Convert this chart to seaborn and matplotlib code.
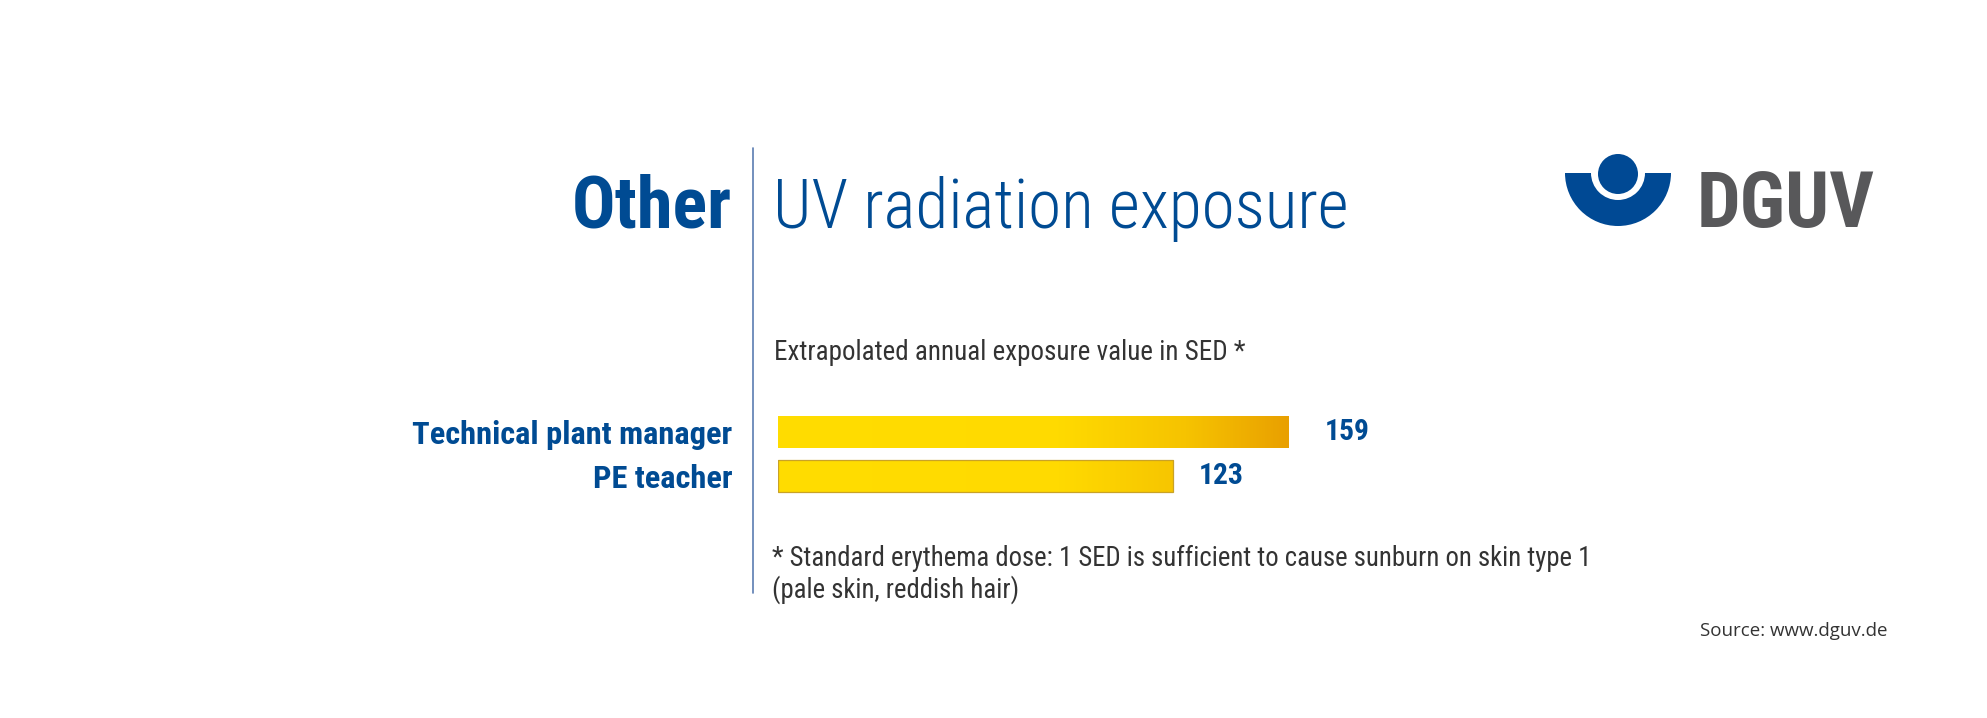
import matplotlib
matplotlib.use('Agg')
import matplotlib.pyplot as plt
import seaborn as sns
import numpy as np
import pandas as pd
from matplotlib.colors import LinearSegmentedColormap
from matplotlib.patches import Wedge, Circle

# data
occupations = ['Technical plant manager', 'PE teacher']
sed_values = [159, 123]

title_left = 'Other'
title_right = 'UV radiation exposure'
subtitle = 'Extrapolated annual exposure value in SED *'
footnote = ['* Standard erythema dose: 1 SED is sufficient to cause sunburn on skin type 1',
            '(pale skin, reddish hair)']
source = 'Source: www.dguv.de'

BLUE = '#004B93'
GREY = '#58585A'
TEXT = '#333333'

sns.set_theme(style='white')
FONT = ['Roboto Condensed', 'Noto Sans Condensed', 'DejaVu Sans Condensed',
        'Noto Sans', 'DejaVu Sans']
plt.rcParams['font.family'] = FONT
plt.rcParams['font.stretch'] = 'condensed'

W, H = 1987, 718
fig = plt.figure(figsize=(W / 100, H / 100), dpi=100)
fig.patch.set_facecolor('white')
renderer = fig.canvas.get_renderer()


def fit(txt, width_px):
    # scale the font so the text spans the width measured on the reference
    bb = txt.get_window_extent(renderer)
    txt.set_fontsize(txt.get_fontsize() * width_px / bb.width)
    return txt.get_fontsize()


# full-figure overlay in pixel units (y pointing down) for titles, notes and logo
bg = fig.add_axes([0, 0, 1, 1])
bg.set_xlim(0, W)
bg.set_ylim(H, 0)
bg.axis('off')

bg.plot([753, 753], [148, 593], color='#5b7db1', lw=1.2)
t = bg.text(732, 228, title_left, ha='right', va='baseline', fontsize=48,
            fontweight='bold', color=BLUE)
fit(t, 160)
t = bg.text(773, 228, title_right, ha='left', va='baseline', fontsize=45,
            fontweight='light', color=BLUE)
fit(t, 576)
t = bg.text(774, 360, subtitle, ha='left', va='baseline', fontsize=15.5, color=TEXT)
fit(t, 470)
t = bg.text(772, 566, footnote[0], ha='left', va='baseline', fontsize=15.5, color=TEXT)
fs = fit(t, 816)
bg.text(772, 598, footnote[1], ha='left', va='baseline', fontsize=fs, color=TEXT)
t = bg.text(1887, 636, source, ha='right', va='baseline', fontsize=13.5, color=TEXT,
            family=['Open Sans', 'DejaVu Sans'], stretch='normal')
fit(t, 188)

# DGUV logo
bg.add_patch(Wedge((1618, 173), 53, 0, 180, width=26, color='#004994', lw=0))
bg.add_patch(Circle((1618, 174), 20, color='#004994', lw=0))
t = bg.text(1697, 227, 'DGUV', ha='left', va='baseline', fontsize=54,
            fontweight='bold', color=GREY)
fit(t, 178)

# bar chart
ax = fig.add_axes([778 / W, 1 - 498 / H, 511 / W, 88 / H])
ax.set_facecolor('none')
df = pd.DataFrame({'occupation': occupations, 'sed': sed_values})
sns.barplot(data=df, x='sed', y='occupation', orient='h', width=0.727,
            color='#FFDD00', ax=ax)

xmax = max(sed_values)
cmap = LinearSegmentedColormap.from_list(
    'uv', [(0, '#FFDD00'), (0.55, '#FFDA00'), (0.8, '#F6C300'), (1, '#E9A000')])
grad = np.linspace(0, 1, 256).reshape(1, -1)

bars = ax.containers[0]
for i, bar in enumerate(bars):
    y0 = bar.get_y()
    h = bar.get_height()
    im = ax.imshow(grad, extent=(0, xmax, y0 + h, y0), aspect='auto',
                   cmap=cmap, zorder=1)
    im.set_clip_path(bar)
    bar.set_facecolor('none')
    bar.set_zorder(2)
    if i == 1:
        bar.set_edgecolor('#C9A227')
        bar.set_linewidth(0.9)
    else:
        bar.set_edgecolor('none')

ax.set_xlim(0, xmax)
ax.set_ylim(1.5, -0.5)
ax.set_xticks([])
ax.set_xlabel('')
ax.set_ylabel('')
sns.despine(ax=ax, left=True, bottom=True)
ax.tick_params(axis='y', length=0, pad=33)
labels = ax.get_yticklabels()
for lbl in labels:
    lbl.set_fontsize(21)
    lbl.set_fontweight('bold')
    lbl.set_color(BLUE)
lab_fs = fit(labels[0], 320)
for lbl in labels:
    lbl.set_fontsize(lab_fs)

for bar, val, pad in zip(bars, sed_values, [36, 25]):
    a = ax.annotate(f'{val}', xy=(bar.get_width(), bar.get_y() + bar.get_height() / 2),
                    xytext=(pad * 0.72, 0), textcoords='offset points',
                    ha='left', va='center', fontsize=21, fontweight='bold', color=BLUE)
    fit(a, 45)

fig.savefig('out.png', dpi=100, facecolor='white')
